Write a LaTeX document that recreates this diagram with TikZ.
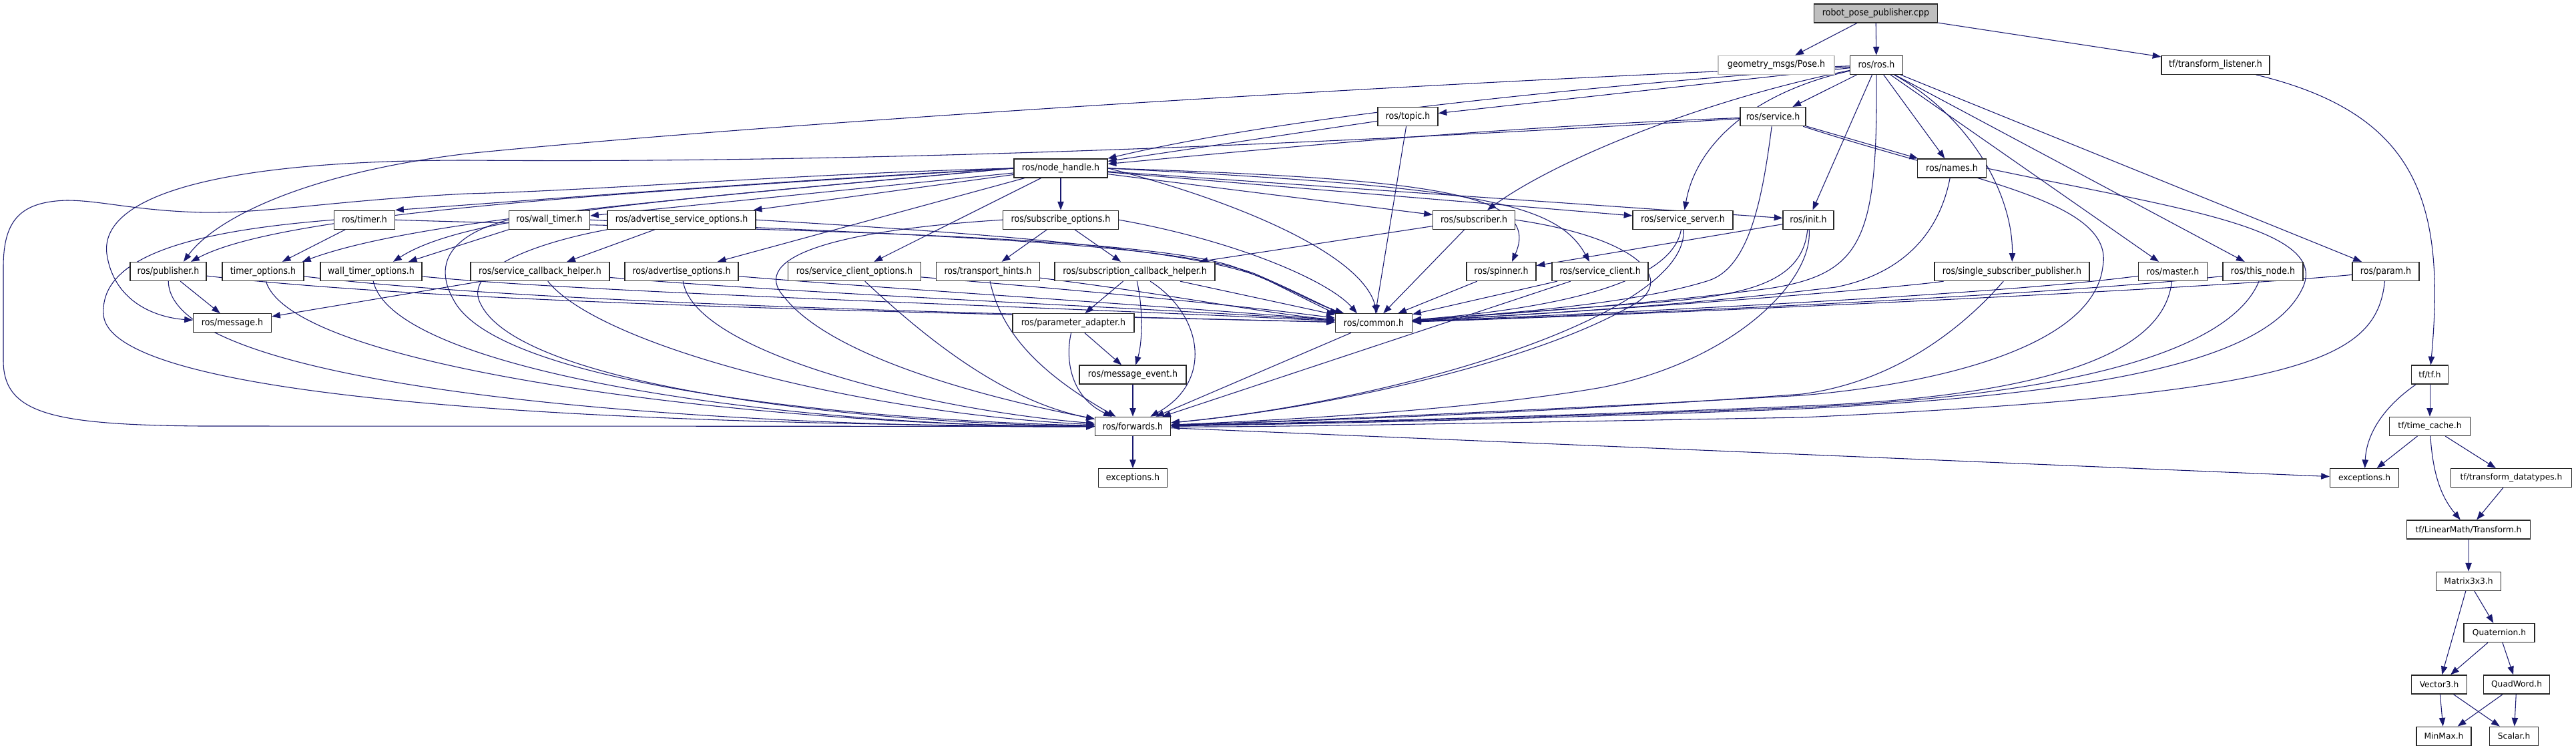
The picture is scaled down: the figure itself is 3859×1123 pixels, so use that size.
\documentclass[tikz,border=0pt]{standalone}
\usepackage{fontspec}
\setmainfont{DejaVu Sans}
\newfontfamily\rosf[FakeStretch=0.9]{DejaVu Sans}
\usetikzlibrary{arrows.meta,calc,backgrounds}
\definecolor{edgec}{HTML}{191970}
\tikzset{
  bw/.style={minimum width=#1*0.75pt},
  box/.style={draw=black!85, fill=white, line width=1pt, inner sep=0pt, minimum height=21pt, font=\rosf\fontsize{10.5pt}{12pt}\selectfont},
  tfbox/.style={box, font=\fontsize{9.2pt}{11pt}\selectfont},
  e/.style={draw=edgec, line width=0.8pt, -{Triangle[length=9.5pt,width=7pt]}}
}
\begin{document}
\begin{tikzpicture}[x=0.75pt,y=-0.75pt]
\useasboundingbox (0,0) rectangle (3859,1123);
% row 0
\node[box,bw=185,fill=gray!50] (robot) at (2810,20) {robot\_pose\_publisher.cpp};
% row 1
\node[box,bw=174,draw=gray!50] (geom) at (2661,97.3) {geometry\_msgs/Pose.h};
\node[box,bw=79] (rosros) at (2811,97.3) {ros/ros.h};
\node[box,bw=162] (tflisten) at (3319,97.3) {tf/transform\_listener.h};
% row 2
\node[box,bw=90] (topic) at (2109,174.6) {ros/topic.h};
\node[box,bw=98] (service) at (2656,174.6) {ros/service.h};
% row 3
\node[box,bw=140] (nh) at (1589,251.9) {ros/node\_handle.h};
\node[box,bw=103] (names) at (2924,251.9) {ros/names.h};
% row 4
\node[box,bw=91] (timer) at (546,329.2) {ros/timer.h};
\node[box,bw=121] (walltimer) at (823,329.2) {ros/wall\_timer.h};
\node[box,bw=222] (advsrvopt) at (1021,329.2) {ros/advertise\_service\_options.h};
\node[box,bw=173] (subopt) at (1589,329.2) {ros/subscribe\_options.h};
\node[box,bw=123] (subscriber) at (2208,329.2) {ros/subscriber.h};
\node[box,bw=150] (srvserver) at (2521,329.2) {ros/service\_server.h};
\node[box,bw=76] (init) at (2709,329.2) {ros/init.h};
% row 5
\node[box,bw=114] (publisher) at (252,406.5) {ros/publisher.h};
\node[box,bw=122] (timeropt) at (394,406.5) {timer\_options.h};
\node[box,bw=152] (walltimeropt) at (556,406.5) {wall\_timer\_options.h};
\node[box,bw=208] (srvcbhelper) at (809,406.5) {ros/service\_callback\_helper.h};
\node[box,bw=170] (advopt) at (1021,406.5) {ros/advertise\_options.h};
\node[box,bw=199] (srvclientopt) at (1280,406.5) {ros/service\_client\_options.h};
\node[box,bw=155] (transport) at (1480,406.5) {ros/transport\_hints.h};
\node[box,bw=240] (subcbhelper) at (1700,406.5) {ros/subscription\_callback\_helper.h};
\node[box,bw=104] (spinner) at (2249,406.5) {ros/spinner.h};
\node[box,bw=144] (srvclient) at (2397,406.5) {ros/service\_client.h};
\node[box,bw=232] (singlesub) at (3014,406.5) {ros/single\_subscriber\_publisher.h};
\node[box,bw=103] (master) at (3255,406.5) {ros/master.h};
\node[box,bw=120] (thisnode) at (3390,406.5) {ros/this\_node.h};
\node[box,bw=100] (param) at (3574,406.5) {ros/param.h};
% row 6
\node[box,bw=117] (message) at (348,483.8) {ros/message.h};
\node[box,bw=182] (paramadapter) at (1608,483.8) {ros/parameter\_adapter.h};
\node[box,bw=115] (common) at (2058,483.8) {ros/common.h};
% row 7
\node[box,bw=160] (msgevent) at (1697,561.1) {ros/message\_event.h};
\node[tfbox,bw=55] (tftf) at (3640,561.1) {tf/tf.h};
% row 8
\node[box,bw=113] (forwards) at (1697,638.4) {ros/forwards.h};
\node[tfbox,bw=121] (timecache) at (3640,638.4) {tf/time\_cache.h};
% row 9
\node[box,bw=103] (exca) at (1697,715.7) {exceptions.h};
\node[tfbox,bw=103] (excb) at (3542,715.7) {exceptions.h};
\node[tfbox,bw=181] (datatypes) at (3762,715.7) {tf/transform\_datatypes.h};
% rows 10-14
\node[tfbox,bw=185] (transform) at (3698,793) {tf/LinearMath/Transform.h};
\node[tfbox,bw=97] (matrix) at (3698,870.3) {Matrix3x3.h};
\node[tfbox,bw=106] (quaternion) at (3744,947.6) {Quaternion.h};
\node[tfbox,bw=83] (vector3) at (3654,1024.9) {Vector3.h};
\node[tfbox,bw=99] (quadword) at (3770,1024.9) {QuadWord.h};
\node[tfbox,bw=82] (minmax) at (3661,1102.2) {MinMax.h};
\node[tfbox,bw=73] (scalar) at (3766,1102.2) {Scalar.h};

\begin{pgfonlayer}{background}
% top
\draw[e] (robot) -- (geom);
\draw[e] (robot) -- (rosros);
\draw[e] (robot) -- (tflisten);
\draw[e] (tflisten) .. controls (3620,170) and (3664,300) .. (tftf);
% tf
\draw[e] (tftf) -- (timecache);
\draw[e] (tftf) .. controls (3570,610) and (3545,650) .. (excb);
\draw[e] (timecache) -- (excb);
\draw[e] (timecache) -- (datatypes);
\draw[e] (timecache) .. controls (3645,720) and (3662,750) .. (transform);
\draw[e] (datatypes) -- (transform);
\draw[e] (transform) -- (matrix);
\draw[e] (matrix) -- (vector3);
\draw[e] (matrix) -- (quaternion);
\draw[e] (quaternion) -- (vector3);
\draw[e] (quaternion) -- (quadword);
\draw[e] (vector3) -- (minmax);
\draw[e] (vector3) -- (scalar);
\draw[e] (quadword) -- (minmax);
\draw[e] (quadword) -- (scalar);
% forwards
\draw[e] (forwards) -- (exca);
\draw[e] (forwards) -- (excb);
% ros.h
\draw[e] (rosros) -- (topic);
\draw[e] (rosros) -- (service);
\draw[e] (rosros) .. controls (2300,135) and (1900,180) .. (nh.north east);
\draw[e] (rosros) .. controls (2200,120) and (1200,180) .. (700,230) .. controls (450,260) and (320,330) .. ($(publisher.north)+(23,0)$);
\draw[e] (rosros) .. controls (2550,150) and (2330,240) .. (subscriber);
\draw[e] (rosros) .. controls (2620,140) and (2540,220) .. (srvserver);
\draw[e] (rosros) -- (init);
\draw[e] (rosros.south) .. controls (2813,360) and (2790,410) .. (2650,432) .. controls (2450,458) and (2250,470) .. (common);
\draw[e] (rosros) -- (names);
\draw[e] (rosros) .. controls (2960,180) and (3016,300) .. (singlesub);
\draw[e] (rosros) -- (master);
\draw[e] (rosros) -- (thisnode);
\draw[e] (rosros) -- (param);
% topic
\draw[e] (topic) -- (nh);
\draw[e] (topic) -- (common);
% service
\draw[e] (service) .. controls (2200,192) and (1850,228) .. (nh);
\draw[e] (service) -- (names);
\draw[e] (service) .. controls (2950,270) and (3170,300) .. (3150,400) .. controls (3135,520) and (2900,575) .. (2700,592) .. controls (2300,615) and (1900,632) .. (forwards);
\draw[e] (service) .. controls (2640,300) and (2620,400) .. (2560,420) .. controls (2450,455) and (2250,470) .. (common);
\draw[e] (service) .. controls (2000,215) and (1300,245) .. (700,240) .. controls (300,240) and (150,300) .. (160,380) .. controls (170,450) and (230,475) .. (message);
% node_handle
\draw[e] (nh.west) .. controls (1100,275) and (800,300) .. (timer.north east);
\draw[e] (nh) -- (walltimer);
\draw[e] (nh) -- (advsrvopt);
\draw[e] (nh) -- (advopt);
\draw[e] (nh) -- (srvclientopt);
\draw[e] (nh) -- (subopt);
\draw[e] (nh.west) .. controls (900,290) and (420,320) .. ($(publisher.north)+(34,0)$);
\draw[e] (nh.west) .. controls (1000,300) and (620,330) .. ($(timeropt.north)+(59,0)$);
\draw[e] (nh.west) .. controls (1000,300) and (700,320) .. ($(walltimeropt.north)+(33,0)$);
\draw[e] (walltimer.south west) -- ($(walltimeropt.north)+(56,0)$);
\draw[e] (nh.west) .. controls (1200,260) and (900,285) .. (700,290) .. controls (500,300) and (400,320) .. (300,318) .. controls (200,315) and (150,300) .. (100,300) .. controls (30,302) and (5,330) .. (5,400) -- (5,540) .. controls (5,620) and (80,636) .. (300,638) -- (forwards);
\draw[e] (nh) -- (subscriber);
\draw[e] (nh) -- (srvserver);
\draw[e] (nh) -- (init);
\draw[e] (nh.east) .. controls (2150,268) and (2310,290) .. ($(spinner.north)+(16,0)$);
\draw[e] (nh.east) .. controls (2200,280) and (2330,300) .. ($(srvclient.north)+(-16,0)$);
\draw[e] (nh.east) .. controls (1850,300) and (2040,380) .. ($(common.north)+(5,0)$);
% subscribe options
\draw[e] (subopt) -- (transport);
\draw[e] (subopt) -- (subcbhelper);
\draw[e] (subopt.east) .. controls (1850,360) and (1990,420) .. ($(common.north)+(-25,0)$);
\draw[e] (subopt.west) .. controls (1250,345) and (1120,385) .. (1175,445) .. controls (1250,540) and (1500,600) .. (forwards);
% transport
\draw[e] (transport) .. controls (1750,440) and (1900,470) .. (common);
\draw[e] (transport) .. controls (1500,500) and (1560,560) .. (forwards);
% subscription callback helper
\draw[e] (subcbhelper) -- (paramadapter);
\draw[e] (subcbhelper) .. controls (1712,460) and (1712,510) .. (msgevent);
\draw[e] (subcbhelper) .. controls (1800,470) and (1820,570) .. (forwards);
\draw[e] (subcbhelper) -- (common);
\draw[e] (paramadapter) -- (msgevent);
\draw[e] (paramadapter) .. controls (1595,540) and (1605,595) .. (forwards);
\draw[e] (msgevent) -- (forwards);
\draw[e] (common) -- (forwards);
% left side
\draw[e] (timer) -- (timeropt);
\draw[e] (timer.east) .. controls (900,340) and (1700,345) .. (1850,400) .. controls (1930,430) and (1970,455) .. ($(common.north)+(-45,0)$);
\draw[e] (timer.west) .. controls (300,345) and (150,380) .. (155,470) .. controls (160,600) and (900,636) .. (forwards);
\draw[e] (publisher) -- (message);
\draw[e] (publisher) .. controls (255,600) and (1200,642) .. (forwards);
\draw[e] (publisher) .. controls (700,458) and (1500,470) .. (common);
\draw[e] (timeropt) .. controls (800,455) and (1500,470) .. (common);
\draw[e] (timeropt) .. controls (440,560) and (1200,640) .. (forwards);
\draw[e] (walltimeropt) .. controls (900,440) and (1600,460) .. (common);
\draw[e] (walltimeropt) .. controls (590,560) and (1200,640) .. (forwards);
\draw[e] (walltimer.east) .. controls (1300,350) and (1750,360) .. (1880,410) .. controls (1950,440) and (1985,460) .. (common);
\draw[e] (walltimer.west) .. controls (700,345) and (640,380) .. (680,450) .. controls (750,580) and (1300,630) .. (forwards);
\draw[e] (advsrvopt) -- (srvcbhelper);
\draw[e] (advsrvopt.east) .. controls (1400,345) and (1800,370) .. (1900,420) .. controls (1960,450) and (1990,465) .. (common);
\draw[e] (advsrvopt.south west) .. controls (820,360) and (690,400) .. (720,455) .. controls (780,580) and (1300,635) .. (forwards);
\draw[e] (srvcbhelper) -- (message);
\draw[e] (srvcbhelper) .. controls (1200,440) and (1700,460) .. (common);
\draw[e] (srvcbhelper) .. controls (900,520) and (1300,620) .. (forwards);
\draw[e] (advopt) .. controls (1300,430) and (1700,455) .. (common);
\draw[e] (advopt) .. controls (1040,530) and (1400,615) .. (forwards);
\draw[e] (srvclientopt) .. controls (1500,425) and (1800,450) .. (common);
\draw[e] (srvclientopt) .. controls (1380,500) and (1500,600) .. (forwards);
% right side
\draw[e] (subscriber) -- (subcbhelper);
\draw[e] (subscriber) -- (common);
\draw[e] (subscriber.east) .. controls (2450,355) and (2520,420) .. (2440,460) .. controls (2300,540) and (2000,610) .. (forwards);
\draw[e] (srvserver) .. controls (2505,420) and (2350,460) .. (common);
\draw[e] (srvserver) .. controls (2530,470) and (2100,600) .. (forwards);
\draw[e] (init) -- (spinner);
\draw[e] (init) .. controls (2700,430) and (2600,445) .. (2450,455) -- (common);
\draw[e] (init) .. controls (2716,420) and (2600,540) .. (2400,580) .. controls (2200,615) and (1900,630) .. (forwards);
\draw[e] (spinner) -- (common);
\draw[e] (srvclient) -- (common);
\draw[e] (srvclient) -- (forwards);
\draw[e] (names) .. controls (2905,350) and (2850,410) .. (2750,430) .. controls (2500,460) and (2300,470) .. (common);
\draw[e] (names.east) .. controls (3250,310) and (3490,340) .. (3450,430) .. controls (3400,540) and (3150,590) .. (2700,612) .. controls (2300,628) and (1900,636) .. (forwards);
\draw[e] (singlesub) .. controls (2850,430) and (2500,460) .. (common);
\draw[e] (singlesub) .. controls (2950,480) and (2850,570) .. (2700,590) .. controls (2300,620) and (1900,632) .. (forwards);
\draw[e] (master) .. controls (3000,440) and (2500,465) .. (common);
\draw[e] (master) .. controls (3245,500) and (3150,590) .. (2700,608) .. controls (2300,625) and (1900,634) .. (forwards);
\draw[e] (thisnode) .. controls (3100,440) and (2500,468) .. (common);
\draw[e] (thisnode) .. controls (3360,480) and (3250,585) .. (2700,610) .. controls (2300,626) and (1900,635) .. (forwards);
\draw[e] (param) .. controls (3300,433) and (2500,470) .. (common);
\draw[e] (param) .. controls (3560,540) and (3450,590) .. (2700,625) .. controls (2300,632) and (1900,640) .. (forwards);
\end{pgfonlayer}
\end{tikzpicture}
\end{document}
